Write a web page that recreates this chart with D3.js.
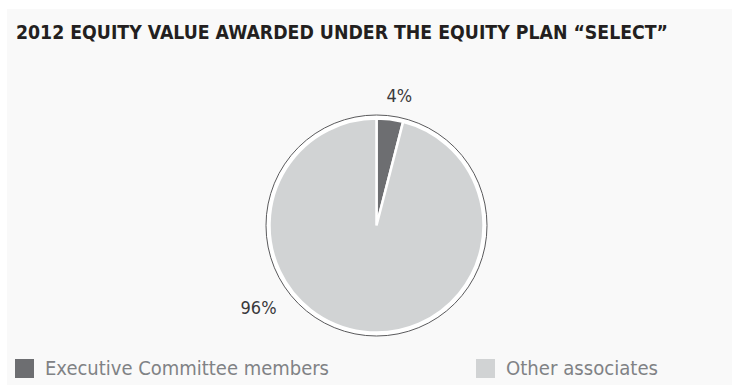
<!DOCTYPE html>
<html>
<head>
<meta charset="utf-8">
<script src="https://cdn.jsdelivr.net/npm/d3@7"></script>
<style>
  body { margin: 0; background: #fff; }
  svg { display: block; }
</style>
</head>
<body>
<div id="chart"></div>
<script>
// chart data
var title = "2012 EQUITY VALUE AWARDED UNDER THE EQUITY PLAN \u201CSELECT\u201D";
var categories = ["Executive Committee members", "Other associates"];
var shares = [4, 96];
var labels = ["4%", "96%"];

// layout
var width = 732, height = 385;
var cx = 376.5, cy = 225.5;
var rPie = 107, rRing = 110.5;
var labelAngles = [10, 235];   // degrees, clockwise from top
var labelRadius = [132, 144];
var legendTextWidth = [284, 152];
var font = "'Liberation Sans Narrow', 'DejaVu Sans Condensed', 'Liberation Sans', sans-serif";
var colors = d3.scaleOrdinal().domain(categories).range(["#6d6e71", "#d1d3d4"]);

var svg = d3.select("#chart").append("svg")
    .attr("width", width)
    .attr("height", height);

// light panel
svg.append("rect")
    .attr("x", 7).attr("y", 9)
    .attr("width", width - 7).attr("height", height - 9)
    .attr("fill", "#f9f9f9");

svg.append("text")
    .attr("x", 16).attr("y", 39)
    .attr("font-family", font)
    .attr("font-weight", "bold")
    .attr("font-size", 19.5)
    .attr("fill", "#231f20")
    .attr("textLength", 652)
    .attr("lengthAdjust", "spacingAndGlyphs")
    .text(title);

var g = svg.append("g").attr("transform", "translate(" + cx + "," + cy + ")");

// outer ring
g.append("circle")
    .attr("r", rRing)
    .attr("fill", "#fff")
    .attr("stroke", "#5a5a5c")
    .attr("stroke-width", 1);

var pie = d3.pie().sort(null).value(function(d) { return d; });
var arcs = pie(shares);
var arc = d3.arc().innerRadius(0).outerRadius(rPie);

g.selectAll("path.slice")
    .data(arcs)
  .enter().append("path")
    .attr("class", "slice")
    .attr("d", arc)
    .attr("fill", function(d, i) { return colors(categories[i]); })
    .attr("stroke", "#fff")
    .attr("stroke-width", 2.5)
    .attr("stroke-linejoin", "miter");

g.selectAll("text.pct")
    .data(labels)
  .enter().append("text")
    .attr("class", "pct")
    .attr("x", function(d, i) { return labelRadius[i] * Math.sin(labelAngles[i] * Math.PI / 180); })
    .attr("y", function(d, i) { return -labelRadius[i] * Math.cos(labelAngles[i] * Math.PI / 180); })
    .attr("dy", "0.35em")
    .attr("text-anchor", "middle")
    .attr("font-family", font)
    .attr("font-size", 18)
    .attr("fill", "#3a3a3c")
    .text(function(d) { return d; });

// legend
var legendX = d3.scalePoint().domain(categories).range([15, 476]);
var leg = svg.selectAll("g.legend")
    .data(categories)
  .enter().append("g")
    .attr("class", "legend")
    .attr("transform", function(d) { return "translate(" + legendX(d) + ",359)"; });

leg.append("rect")
    .attr("width", 19).attr("height", 19)
    .attr("fill", function(d) { return colors(d); });

leg.append("text")
    .attr("x", 30).attr("y", 16)
    .attr("font-family", font)
    .attr("font-size", 19)
    .attr("fill", "#808285")
    .attr("textLength", function(d, i) { return legendTextWidth[i]; })
    .attr("lengthAdjust", "spacingAndGlyphs")
    .text(function(d) { return d; });
</script>
</body>
</html>
